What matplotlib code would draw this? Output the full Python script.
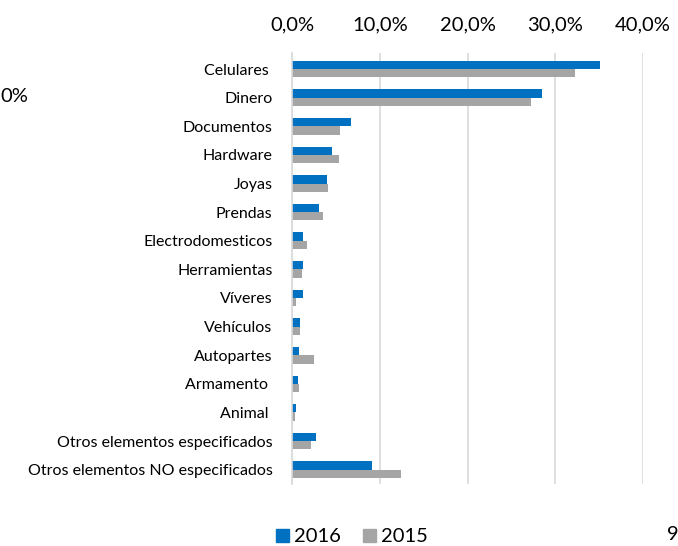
import matplotlib
matplotlib.use("Agg")
import matplotlib.pyplot as plt
import numpy as np
from matplotlib.patches import Patch

categories = ["Celulares ", "Dinero", "Documentos", "Hardware", "Joyas", "Prendas",
              "Electrodomesticos", "Herramientas", "Víveres", "Vehículos", "Autopartes",
              "Armamento ", "Animal ", "Otros elementos especificados",
              "Otros elementos NO especificados"]
v2016 = [35.1, 28.5, 6.7, 4.6, 4.0, 3.1, 1.3, 1.3, 1.2, 0.9, 0.8, 0.7, 0.45, 2.7, 9.1]
v2015 = [32.3, 27.2, 5.5, 5.3, 4.1, 3.5, 1.7, 1.1, 0.45, 0.9, 2.5, 0.75, 0.3, 2.2, 12.45]
xticks = [0, 10, 20, 30, 40]
xticklabels = ["0,0%", "10,0%", "20,0%", "30,0%", "40,0%"]
series_names = ["2016", "2015"]
colors = ["#0070C0", "#A5A5A5"]

plt.rcParams['font.family'] = ['Lato', 'DejaVu Sans']

fig = plt.figure(figsize=(6.78, 5.46), dpi=100)
ax = fig.add_axes([292/678, 1-484/546, (643-292)/678, (484-53)/546])

y = np.arange(len(categories))
h = 0.29
ax.barh(y - h/2, v2016, height=h, color=colors[0])
ax.barh(y + h/2, v2015, height=h, color=colors[1])

ax.set_xlim(0, 40)
ax.set_ylim(len(categories) - 0.5, -0.56)
ax.set_yticks(y)
ax.set_yticklabels(categories, fontsize=11.5, color="#000000")
ax.set_xticks(xticks)
ax.set_xticklabels(xticklabels, fontsize=14.5, color="#000000")
ax.xaxis.tick_top()
ax.tick_params(axis='both', length=0)
ax.tick_params(axis='x', pad=14)
ax.tick_params(axis='y', pad=14)
ax.grid(axis='x', color="#D9D9D9", linewidth=1.2)
ax.set_axisbelow(True)
for s in ["top", "right", "bottom"]:
    ax.spines[s].set_visible(False)
ax.spines["left"].set_color("#D9D9D9")
ax.spines["left"].set_linewidth(1.2)

handles = [Patch(color=colors[0], label=series_names[0]),
           Patch(color=colors[1], label=series_names[1])]
fig.legend(handles=handles, loc="center", bbox_to_anchor=(352/678, 1-537/546),
           ncol=2, frameon=False, fontsize=14.5, handlelength=0.65, handleheight=0.65,
           handletextpad=0.25, columnspacing=1.1)

fig.text(0.0, 1-97/546, "0%", fontsize=14.5, va="center", ha="left")
fig.text(667/678, 1-535/546, "9", fontsize=14.5, va="center", ha="left")

fig.savefig("out.png", dpi=100)
